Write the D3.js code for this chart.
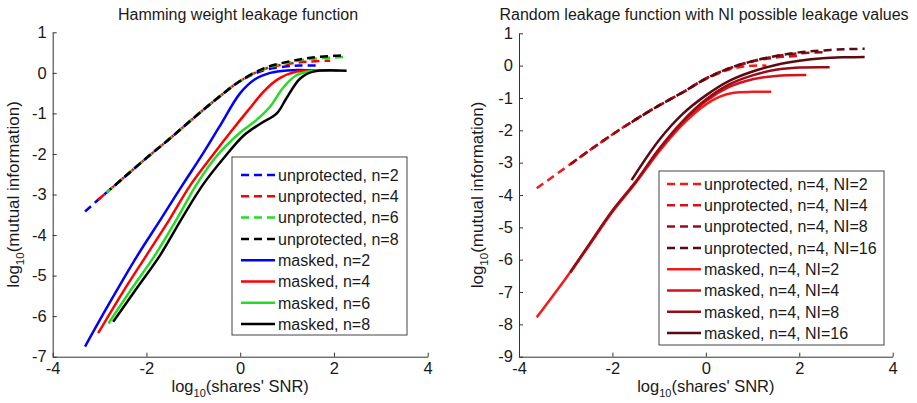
<!DOCTYPE html>
<html><head><meta charset="utf-8">
<script src="https://cdn.jsdelivr.net/npm/d3@7/dist/d3.min.js"></script>
<style>
body{margin:0;background:#fff}
text{font-family:"Liberation Sans",Arial,Helvetica,sans-serif;fill:#1a1a1a}
</style>
</head><body>
<svg id="chart" width="917" height="403"></svg>
<script>
// ---------- tick labels ----------
const xTicks = [-4, -2, 0, 2, 4];
const yTicksLeft = [1, 0, -1, -2, -3, -4, -5, -6, -7];
const yTicksRight = [1, 0, -1, -2, -3, -4, -5, -6, -7, -8, -9];

// ---------- left panel: Hamming weight leakage ----------
const leftTitle = "Hamming weight leakage function";
const leftLabels = ["unprotected, n=2","unprotected, n=4","unprotected, n=6","unprotected, n=8",
                    "masked, n=2","masked, n=4","masked, n=6","masked, n=8"];
const leftColors = ["#0000ff","#ff0000","#22dd22","#000000"];

const hwUnprotN2X = [-3.31,-3.0,-2.5,-2.0,-1.5,-1.0,-0.5,0.0,0.5,1.0,1.3,1.63];
const hwUnprotN2Y = [-3.42,-3.1,-2.6,-2.1,-1.62,-1.12,-0.64,-0.2,0.06,0.16,0.18,0.18];
const hwUnprotN4X = [-3.03,-2.5,-2.0,-1.5,-1.0,-0.5,0.0,0.5,1.0,1.5,1.92];
const hwUnprotN4Y = [-3.13,-2.6,-2.1,-1.62,-1.12,-0.64,-0.2,0.09,0.22,0.28,0.3];
const hwUnprotN6X = [-2.85,-2.5,-2.0,-1.5,-1.0,-0.5,0.0,0.5,1.0,1.5,2.0,2.2];
const hwUnprotN6Y = [-2.95,-2.6,-2.1,-1.62,-1.12,-0.64,-0.2,0.1,0.25,0.34,0.38,0.39];
const hwUnprotN8X = [-2.78,-2.5,-2.0,-1.5,-1.0,-0.5,0.0,0.5,1.0,1.5,2.0,2.2];
const hwUnprotN8Y = [-2.88,-2.6,-2.1,-1.62,-1.12,-0.64,-0.2,0.11,0.27,0.37,0.42,0.43];

const hwMaskN2X = [-3.31,-2.8,-2.2,-1.7,-1.25,-0.8,-0.45,0.0,0.3,0.64,1.0,1.6];
const hwMaskN2Y = [-6.75,-5.7,-4.52,-3.62,-2.8,-2.0,-1.34,-0.5,-0.17,0.0,0.06,0.06];
const hwMaskN4X = [-3.03,-2.5,-2.0,-1.5,-1.07,-0.6,-0.15,0.2,0.5,0.8,1.2,1.9];
const hwMaskN4Y = [-6.42,-5.4,-4.5,-3.6,-2.78,-2.05,-1.38,-0.88,-0.46,-0.16,0.03,0.05];
const hwMaskN6X = [-2.81,-2.3,-1.82,-1.35,-0.93,-0.5,0.0,0.35,0.64,0.92,1.2,1.49,2.1];
const hwMaskN6Y = [-6.18,-5.3,-4.5,-3.6,-2.75,-2.05,-1.47,-1.16,-0.83,-0.36,-0.06,0.04,0.05];
const hwMaskN8X = [-2.71,-2.2,-1.71,-1.25,-0.79,-0.35,0.07,0.42,0.78,0.99,1.28,1.56,2.27];
const hwMaskN8Y = [-6.14,-5.3,-4.5,-3.6,-2.75,-2.1,-1.55,-1.26,-1.0,-0.62,-0.14,0.03,0.05];

// ---------- right panel: random leakage with NI values ----------
const rightTitle = "Random leakage function with NI possible leakage values";
const rightLabels = ["unprotected, n=4, NI=2","unprotected, n=4, NI=4","unprotected, n=4, NI=8","unprotected, n=4, NI=16",
                     "masked, n=4, NI=2","masked, n=4, NI=4","masked, n=4, NI=8","masked, n=4, NI=16"];
const rightColors = ["#f41a1a","#d7101a","#9a0c14","#5a0a10"];

const rlUnprotNI2X = [-3.62,-3.0,-2.5,-2.0,-1.5,-1.0,-0.5,0.0,0.5,0.8,1.0,1.3];
const rlUnprotNI2Y = [-3.79,-3.15,-2.63,-2.13,-1.66,-1.23,-0.83,-0.42,-0.12,-0.03,0.0,0.0];
const rlUnprotNI4X = [-2.9,-2.5,-2.0,-1.5,-1.0,-0.5,0.0,0.5,1.0,1.5,2.0];
const rlUnprotNI4Y = [-3.05,-2.63,-2.13,-1.66,-1.23,-0.83,-0.4,-0.09,0.13,0.25,0.3];
const rlUnprotNI8X = [-2.9,-2.5,-2.0,-1.5,-1.0,-0.5,0.0,0.5,1.0,1.5,2.0,2.6];
const rlUnprotNI8Y = [-3.05,-2.63,-2.13,-1.66,-1.23,-0.83,-0.4,-0.08,0.14,0.29,0.38,0.42];
const rlUnprotNI16X = [-1.59,-1.0,-0.5,0.0,0.5,1.0,1.5,2.0,2.5,3.0,3.4];
const rlUnprotNI16Y = [-1.75,-1.23,-0.83,-0.4,-0.08,0.14,0.3,0.41,0.47,0.51,0.52];

const rlMaskNI2X = [-3.62,-3.0,-2.5,-2.0,-1.5,-1.0,-0.5,0.0,0.3,0.6,1.0,1.4];
const rlMaskNI2Y = [-7.78,-6.58,-5.56,-4.52,-3.62,-2.65,-1.82,-1.2,-0.96,-0.84,-0.81,-0.81];
const rlMaskNI4X = [-2.9,-2.5,-2.0,-1.5,-1.0,-0.5,0.0,0.5,1.0,1.5,2.15];
const rlMaskNI4Y = [-6.4,-5.55,-4.5,-3.6,-2.6,-1.76,-1.1,-0.66,-0.42,-0.32,-0.29];
const rlMaskNI8X = [-2.9,-2.5,-2.0,-1.5,-1.0,-0.5,0.0,0.5,1.0,1.5,2.0,2.65];
const rlMaskNI8Y = [-6.38,-5.53,-4.48,-3.58,-2.57,-1.72,-1.05,-0.58,-0.3,-0.13,-0.06,-0.05];
const rlMaskNI16X = [-1.59,-1.0,-0.5,0.0,0.5,1.0,1.5,2.0,2.5,3.0,3.4];
const rlMaskNI16Y = [-3.54,-2.3,-1.5,-0.92,-0.47,-0.18,0.02,0.15,0.23,0.26,0.27];

const zip = (xs, ys) => xs.map((x, i) => [x, ys[i]]);

const svg = d3.select("#chart");

function panel(cfg) {
  const x = d3.scaleLinear().domain([-4, 4]).range(cfg.xRange);
  const y = d3.scaleLinear().domain(cfg.yDomain).range(cfg.yRange);
  const g = svg.append("g");

  const line = d3.line().x(d => x(d[0])).y(d => y(d[1])).curve(d3.curveCatmullRom.alpha(0.5));

  // data lines
  cfg.series.forEach(s => {
    g.append("path")
      .attr("d", line(s.data))
      .attr("fill", "none")
      .attr("stroke", s.color)
      .attr("stroke-width", 2.5)
      .attr("stroke-dasharray", s.dashed ? "8,5" : null)
      .attr("stroke-dashoffset", s.offset || 0)
      .attr("stroke-linecap", "butt")
      .attr("stroke-linejoin", "round");
  });

  // axes
  const xa = g.append("g").attr("transform", `translate(0,${cfg.yRange[0]})`)
    .call(d3.axisBottom(x).tickValues(xTicks).tickSizeInner(-4).tickSizeOuter(0).tickPadding(6)
      .tickFormat(d => d < 0 ? "-" + Math.abs(d) : d));
  const ya = g.append("g").attr("transform", `translate(${cfg.xRange[0]},0)`)
    .call(d3.axisLeft(y).tickValues(cfg.yTicks).tickSizeInner(-4).tickSizeOuter(0).tickPadding(6)
      .tickFormat(d => d < 0 ? "-" + Math.abs(d) : d));
  [xa, ya].forEach(a => {
    a.select(".domain").attr("stroke", "#333").attr("stroke-width", 1);
    a.selectAll(".tick line").attr("stroke", "#333");
    a.selectAll(".tick text").attr("font-size", 16.5).attr("fill", "#1a1a1a")
      .attr("font-family", '"Liberation Sans",Arial,sans-serif');
  });

  // title
  g.append("text").attr("x", cfg.titleX).attr("y", 20).attr("text-anchor", "middle")
    .attr("font-size", 16).text(cfg.title);

  // x label
  const xl = g.append("text").attr("x", (cfg.xRange[0] + cfg.xRange[1]) / 2).attr("y", 392)
    .attr("text-anchor", "middle").attr("font-size", 16.5);
  xl.append("tspan").text("log");
  xl.append("tspan").attr("font-size", 11).attr("dy", 5).text("10");
  xl.append("tspan").attr("dy", -5).text("(shares' SNR)");

  // y label
  const yl = g.append("text")
    .attr("transform", `translate(${cfg.yLabelX},${(cfg.yRange[0] + cfg.yRange[1]) / 2}) rotate(-90)`)
    .attr("text-anchor", "middle").attr("font-size", 17);
  yl.append("tspan").text("log");
  yl.append("tspan").attr("font-size", 11.5).attr("dy", 5).text("10");
  yl.append("tspan").attr("dy", -5).text("(mutual information)");

  // legend
  const L = cfg.legend;
  g.append("rect").attr("x", L.x).attr("y", L.y).attr("width", L.w).attr("height", L.h)
    .attr("fill", "#fff").attr("stroke", "#444").attr("stroke-width", 1);
  cfg.series.forEach((s, i) => {
    const ly = L.firstY + i * L.step;
    g.append("line").attr("x1", L.sx).attr("x2", L.sx + 34).attr("y1", ly).attr("y2", ly)
      .attr("stroke", s.color).attr("stroke-width", 2.5)
      .attr("stroke-dasharray", s.dashed ? "8,5" : null);
    g.append("text").attr("x", L.sx + 37).attr("y", ly + 5.8).attr("font-size", 16).text(s.label);
  });
}

panel({
  xRange: [52.7, 427.7], yDomain: [-7, 1], yRange: [356.7, 32.3], yTicks: yTicksLeft,
  title: leftTitle, titleX: 238, yLabelX: 19,
  series: [
    {data: zip(hwUnprotN2X, hwUnprotN2Y), color: leftColors[0], dashed: true, label: leftLabels[0]},
    {data: zip(hwUnprotN4X, hwUnprotN4Y), color: leftColors[1], dashed: true, label: leftLabels[1]},
    {data: zip(hwUnprotN6X, hwUnprotN6Y), color: leftColors[2], dashed: true, label: leftLabels[2]},
    {data: zip(hwUnprotN8X, hwUnprotN8Y), color: leftColors[3], dashed: true, label: leftLabels[3], offset: 6},
    {data: zip(hwMaskN2X, hwMaskN2Y), color: leftColors[0], dashed: false, label: leftLabels[4]},
    {data: zip(hwMaskN4X, hwMaskN4Y), color: leftColors[1], dashed: false, label: leftLabels[5]},
    {data: zip(hwMaskN6X, hwMaskN6Y), color: leftColors[2], dashed: false, label: leftLabels[6]},
    {data: zip(hwMaskN8X, hwMaskN8Y), color: leftColors[3], dashed: false, label: leftLabels[7]}
  ],
  legend: {x: 232, y: 157, w: 175, h: 178, firstY: 175, step: 21.3, sx: 241}
});

panel({
  xRange: [519, 892.7], yDomain: [-9, 1], yRange: [356.7, 33.3], yTicks: yTicksRight,
  title: rightTitle, titleX: 704, yLabelX: 483,
  series: [
    {data: zip(rlUnprotNI2X, rlUnprotNI2Y), color: rightColors[0], dashed: true, label: rightLabels[0]},
    {data: zip(rlUnprotNI4X, rlUnprotNI4Y), color: rightColors[1], dashed: true, label: rightLabels[1]},
    {data: zip(rlUnprotNI8X, rlUnprotNI8Y), color: rightColors[2], dashed: true, label: rightLabels[2]},
    {data: zip(rlUnprotNI16X, rlUnprotNI16Y), color: rightColors[3], dashed: true, label: rightLabels[3]},
    {data: zip(rlMaskNI2X, rlMaskNI2Y), color: rightColors[0], dashed: false, label: rightLabels[4]},
    {data: zip(rlMaskNI4X, rlMaskNI4Y), color: rightColors[1], dashed: false, label: rightLabels[5]},
    {data: zip(rlMaskNI8X, rlMaskNI8Y), color: rightColors[2], dashed: false, label: rightLabels[6]},
    {data: zip(rlMaskNI16X, rlMaskNI16Y), color: rightColors[3], dashed: false, label: rightLabels[7]}
  ],
  legend: {x: 659, y: 171, w: 225, h: 174, firstY: 184, step: 21.3, sx: 667}
});
</script>
</body></html>
